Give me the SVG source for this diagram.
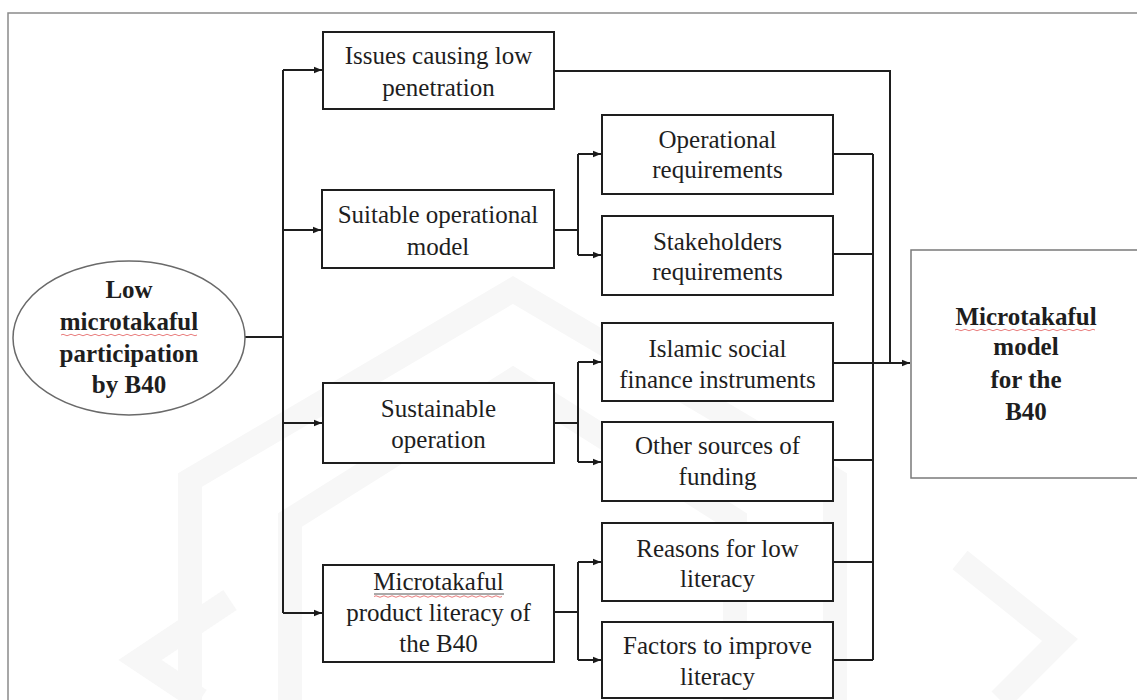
<svg xmlns="http://www.w3.org/2000/svg" width="1137" height="700" viewBox="0 0 1137 700">
  <defs>
    <marker id="arrow" viewBox="0 0 8 8" refX="8" refY="4" markerWidth="8" markerHeight="8" markerUnits="userSpaceOnUse" orient="auto">
      <path d="M0,0.8 L8,4 L0,7.2 Z" fill="#1a1a1a"/>
    </marker>
  </defs>
  <style>
    .box { fill: #ffffff; stroke: #1e1e1e; stroke-width: 2; }
    .t { font-family: "Liberation Serif", "Times New Roman", serif; font-size: 25px; fill: #1e1e1e; text-anchor: middle; }
    .b { font-weight: bold; }
    .wire { fill: none; stroke: #1e1e1e; stroke-width: 2; }
    .spell { fill: none; stroke: #e05050; stroke-width: 1; opacity: 0.75; }
    .mark { fill: none; stroke: #f7f7f7; stroke-width: 24; stroke-linejoin: miter; }
  </style>

  <rect x="0" y="0" width="1137" height="700" fill="#ffffff"/>

  <!-- faint background emblem -->
  <g id="emblem">
    <polyline class="mark" points="190,700 190,480 513,290 835,480 835,700"/>
    <polyline class="mark" points="290,700 290,520 513,380 735,520 735,700"/>
    <polyline class="mark" points="230,600 140,660 200,700"/>
    <polyline class="mark" points="960,560 1060,640 1000,700"/>
  </g>

  <!-- page frame -->
  <rect x="8" y="13" width="1145" height="700" fill="none" stroke="#8a8a8a" stroke-width="1.5"/>

  <!-- connectors -->
  <g id="connectors">
    <path class="wire" d="M245 337 H283"/>
    <path class="wire" d="M283 70 V613"/>
    <path class="wire" d="M283 70 H322" marker-end="url(#arrow)"/>
    <path class="wire" d="M283 230 H321" marker-end="url(#arrow)"/>
    <path class="wire" d="M283 423 H322" marker-end="url(#arrow)"/>
    <path class="wire" d="M283 613 H322" marker-end="url(#arrow)"/>

    <path class="wire" d="M554 230 H578"/>
    <path class="wire" d="M578 154 V255"/>
    <path class="wire" d="M578 154 H601" marker-end="url(#arrow)"/>
    <path class="wire" d="M578 255 H601" marker-end="url(#arrow)"/>

    <path class="wire" d="M554 423 H578"/>
    <path class="wire" d="M578 362 V462"/>
    <path class="wire" d="M578 362 H601" marker-end="url(#arrow)"/>
    <path class="wire" d="M578 462 H601" marker-end="url(#arrow)"/>

    <path class="wire" d="M554 612 H578"/>
    <path class="wire" d="M578 562 V660"/>
    <path class="wire" d="M578 562 H601" marker-end="url(#arrow)"/>
    <path class="wire" d="M578 660 H601" marker-end="url(#arrow)"/>

    <path class="wire" d="M554 71 H890 V363"/>

    <path class="wire" d="M833 154 H873"/>
    <path class="wire" d="M833 254 H873"/>
    <path class="wire" d="M833 363 H873"/>
    <path class="wire" d="M833 460 H873"/>
    <path class="wire" d="M833 562 H873"/>
    <path class="wire" d="M833 660 H873"/>
    <path class="wire" d="M873 154 V660"/>
    <path class="wire" d="M873 363 H910" stroke-width="2.5" marker-end="url(#arrow)"/>
  </g>

  <!-- start node -->
  <g id="node-low-participation">
    <ellipse cx="129" cy="338" rx="116" ry="77" fill="#ffffff" stroke="#6a6a6a" stroke-width="1.5"/>
    <text class="t b" x="129" y="298">Low</text>
    <text class="t b" x="129" y="330">microtakaful</text>
    <path class="spell" d="M61 335 q2 -1.5 4 0 t4 0 t4 0 t4 0 t4 0 t4 0 t4 0 t4 0 t4 0 t4 0 t4 0 t4 0 t4 0 t4 0 t4 0 t4 0 t4 0 t4 0 t4 0 t4 0 t4 0 t4 0 t4 0 t4 0 t4 0 t4 0 t4 0 t4 0 t4 0 t4 0 t4 0 t4 0 t4 0 t4 0"/>
    <text class="t b" x="129" y="362">participation</text>
    <text class="t b" x="129" y="393">by B40</text>
  </g>

  <!-- first-level nodes -->
  <g id="node-issues">
    <rect class="box" x="323" y="32" width="231" height="77"/>
    <text class="t" x="438.5" y="64">Issues causing low</text>
    <text class="t" x="438.5" y="96">penetration</text>
  </g>
  <g id="node-operational-model">
    <rect class="box" x="322" y="190" width="232" height="78"/>
    <text class="t" x="438" y="223">Suitable operational</text>
    <text class="t" x="438" y="255">model</text>
  </g>
  <g id="node-sustainable">
    <rect class="box" x="323" y="383" width="231" height="80"/>
    <text class="t" x="438.5" y="417">Sustainable</text>
    <text class="t" x="438.5" y="448">operation</text>
  </g>
  <g id="node-literacy">
    <rect class="box" x="323" y="565" width="231" height="97"/>
    <text class="t" x="438.5" y="590">Microtakaful</text>
    <path d="M374 594 H504" stroke="#555" stroke-width="1" fill="none"/>
    <path class="spell" d="M374 596.5 q2 -1.5 4 0 t4 0 t4 0 t4 0 t4 0 t4 0 t4 0 t4 0 t4 0 t4 0 t4 0 t4 0 t4 0 t4 0 t4 0 t4 0 t4 0 t4 0 t4 0 t4 0 t4 0 t4 0 t4 0 t4 0 t4 0 t4 0 t4 0 t4 0 t4 0 t4 0 t4 0 t4 0"/>
    <text class="t" x="438.5" y="621">product literacy of</text>
    <text class="t" x="438.5" y="652">the B40</text>
  </g>

  <!-- second-level nodes -->
  <g id="node-op-req">
    <rect class="box" x="602" y="115" width="231" height="79"/>
    <text class="t" x="717.5" y="148">Operational</text>
    <text class="t" x="717.5" y="178">requirements</text>
  </g>
  <g id="node-stake-req">
    <rect class="box" x="602" y="216" width="231" height="79"/>
    <text class="t" x="717.5" y="250">Stakeholders</text>
    <text class="t" x="717.5" y="280">requirements</text>
  </g>
  <g id="node-islamic">
    <rect class="box" x="602" y="323" width="231" height="78"/>
    <text class="t" x="717.5" y="357">Islamic social</text>
    <text class="t" x="717.5" y="388">finance instruments</text>
  </g>
  <g id="node-other-funding">
    <rect class="box" x="602" y="422" width="231" height="79"/>
    <text class="t" x="717.5" y="454">Other sources of</text>
    <text class="t" x="717.5" y="485">funding</text>
  </g>
  <g id="node-reasons">
    <rect class="box" x="602" y="523" width="231" height="78"/>
    <text class="t" x="717.5" y="557">Reasons for low</text>
    <text class="t" x="717.5" y="587">literacy</text>
  </g>
  <g id="node-factors">
    <rect class="box" x="602" y="622" width="231" height="76"/>
    <text class="t" x="717.5" y="654">Factors to improve</text>
    <text class="t" x="717.5" y="685">literacy</text>
  </g>

  <!-- outcome node -->
  <g id="node-model">
    <rect x="911" y="250" width="240" height="228" fill="#ffffff" stroke="#7a7a7a" stroke-width="1.5"/>
    <text class="t b" x="1026" y="325">Microtakaful</text>
    <path class="spell" d="M955 330 q2 -1.5 4 0 t4 0 t4 0 t4 0 t4 0 t4 0 t4 0 t4 0 t4 0 t4 0 t4 0 t4 0 t4 0 t4 0 t4 0 t4 0 t4 0 t4 0 t4 0 t4 0 t4 0 t4 0 t4 0 t4 0 t4 0 t4 0 t4 0 t4 0 t4 0 t4 0 t4 0 t4 0 t4 0 t4 0 t4 0"/>
    <text class="t b" x="1026" y="355">model</text>
    <text class="t b" x="1026" y="388">for the</text>
    <text class="t b" x="1026" y="420">B40</text>
  </g>
</svg>
